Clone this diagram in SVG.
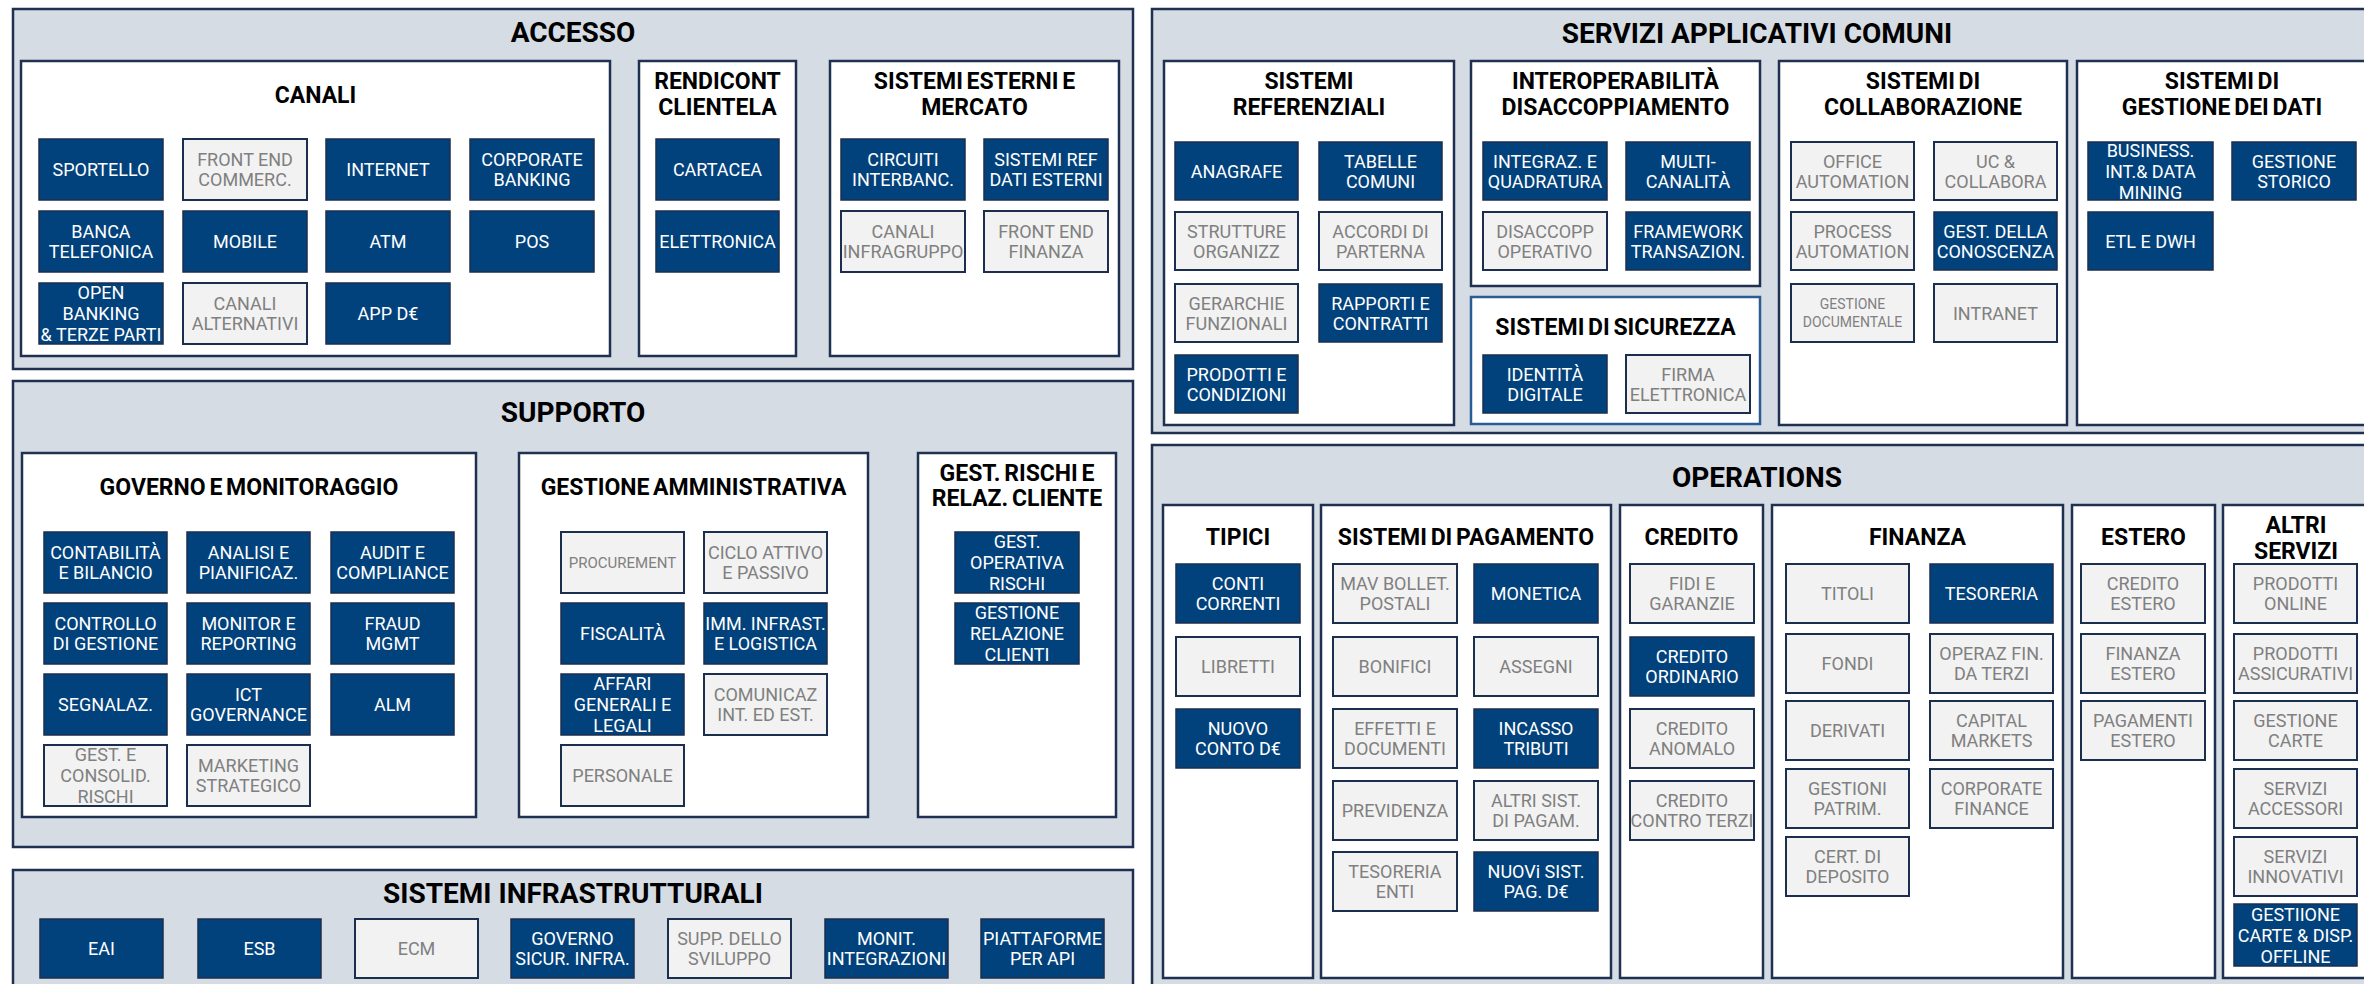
<svg xmlns="http://www.w3.org/2000/svg" width="2364" height="984" viewBox="0 0 2364 984">
<style>
text{font-family:Roboto,"Liberation Sans",sans-serif;text-anchor:middle}
.pn{fill:#d6dce4;stroke:#1f3050;stroke-width:2.5}
.gp{fill:#fff;stroke:#1f3050;stroke-width:2.5}
.sec{fill:#fff;stroke:#2a5b92;stroke-width:2.5}
.t1{font-size:28px;font-weight:700;fill:#000}
.t2{font-size:23px;font-weight:700;fill:#000;word-spacing:-2px}
.D rect{fill:#02427c;stroke:#1c2e4e;stroke-width:1.5}
.L rect{fill:#f2f2f2;stroke:#1c2e4e;stroke-width:2}
.D text,.L text{font-size:18px}
.D text{fill:#fff}
.L text{fill:#808080}
.L text.s15{font-size:15px}
.L text.s14{font-size:14px}
</style>
<rect width="2364" height="984" fill="#fff"/>
<g id="connectors"/>

<!-- ACCESSO -->
<g id="accesso">
<rect class="pn" x="13" y="9" width="1120" height="360"/>
<text class="t1" x="573" y="42">ACCESSO</text>
</g>
<g id="canali">
<rect class="gp" x="21" y="61" width="589" height="295"/>
<text class="t2" x="315.5" y="103">CANALI</text>
</g>
<g id="n-sportello" class="D"><rect x="39" y="139" width="124" height="61"/><text x="101" y="176">SPORTELLO</text></g>
<g id="n-frontend-commerc" class="L"><rect x="183" y="139" width="124" height="61"/><text x="245" y="166">FRONT END<tspan x="245" dy="20">COMMERC.</tspan></text></g>
<g id="n-internet" class="D"><rect x="326" y="139" width="124" height="61"/><text x="388" y="176">INTERNET</text></g>
<g id="n-corporate-banking" class="D"><rect x="470" y="139" width="124" height="61"/><text x="532" y="166">CORPORATE<tspan x="532" dy="20">BANKING</tspan></text></g>
<g id="n-banca-telefonica" class="D"><rect x="39" y="211" width="124" height="61"/><text x="101" y="238">BANCA<tspan x="101" dy="20">TELEFONICA</tspan></text></g>
<g id="n-mobile" class="D"><rect x="183" y="211" width="124" height="61"/><text x="245" y="248">MOBILE</text></g>
<g id="n-atm" class="D"><rect x="326" y="211" width="124" height="61"/><text x="388" y="248">ATM</text></g>
<g id="n-pos" class="D"><rect x="470" y="211" width="124" height="61"/><text x="532" y="248">POS</text></g>
<g id="n-open-banking" class="D"><rect x="39" y="283" width="124" height="61"/><text x="101" y="299">OPEN<tspan x="101" dy="21">BANKING</tspan><tspan x="101" dy="21">&amp; TERZE PARTI</tspan></text></g>
<g id="n-canali-alternativi" class="L"><rect x="183" y="283" width="124" height="61"/><text x="245" y="310">CANALI<tspan x="245" dy="20">ALTERNATIVI</tspan></text></g>
<g id="n-app-de" class="D"><rect x="326" y="283" width="124" height="61"/><text x="388" y="320">APP D€</text></g>

<g id="rendicont">
<rect class="gp" x="639" y="61" width="157" height="295"/>
<text class="t2" x="717.5" y="89">RENDICONT<tspan x="717.5" dy="26">CLIENTELA</tspan></text>
</g>
<g id="n-cartacea" class="D"><rect x="656" y="139" width="123" height="61"/><text x="717.5" y="176">CARTACEA</text></g>
<g id="n-elettronica" class="D"><rect x="656" y="211" width="123" height="61"/><text x="717.5" y="248">ELETTRONICA</text></g>

<g id="sistemi-esterni">
<rect class="gp" x="830" y="61" width="289" height="295"/>
<text class="t2" x="974.5" y="89">SISTEMI ESTERNI E<tspan x="974.5" dy="26">MERCATO</tspan></text>
</g>
<g id="n-circuiti" class="D"><rect x="841" y="139" width="124" height="61"/><text x="903" y="166">CIRCUITI<tspan x="903" dy="20">INTERBANC.</tspan></text></g>
<g id="n-sistemi-ref" class="D"><rect x="984" y="139" width="124" height="61"/><text x="1046" y="166">SISTEMI REF<tspan x="1046" dy="20">DATI ESTERNI</tspan></text></g>
<g id="n-canali-infragruppo" class="L"><rect x="841" y="211" width="124" height="61"/><text x="903" y="238">CANALI<tspan x="903" dy="20">INFRAGRUPPO</tspan></text></g>
<g id="n-frontend-finanza" class="L"><rect x="984" y="211" width="124" height="61"/><text x="1046" y="238">FRONT END<tspan x="1046" dy="20">FINANZA</tspan></text></g>

<!-- SUPPORTO -->
<g id="supporto">
<rect class="pn" x="13" y="381" width="1120" height="466"/>
<text class="t1" x="573" y="422">SUPPORTO</text>
</g>
<g id="governo">
<rect class="gp" x="22" y="453" width="454" height="364"/>
<text class="t2" x="249" y="495">GOVERNO E MONITORAGGIO</text>
</g>
<g id="n-contabilita" class="D"><rect x="44" y="532" width="123" height="61"/><text x="105.5" y="559">CONTABILITÀ<tspan x="105.5" dy="20">E BILANCIO</tspan></text></g>
<g id="n-analisi" class="D"><rect x="187" y="532" width="123" height="61"/><text x="248.5" y="559">ANALISI E<tspan x="248.5" dy="20">PIANIFICAZ.</tspan></text></g>
<g id="n-audit" class="D"><rect x="331" y="532" width="123" height="61"/><text x="392.5" y="559">AUDIT E<tspan x="392.5" dy="20">COMPLIANCE</tspan></text></g>
<g id="n-controllo" class="D"><rect x="44" y="603" width="123" height="61"/><text x="105.5" y="630">CONTROLLO<tspan x="105.5" dy="20">DI GESTIONE</tspan></text></g>
<g id="n-monitor" class="D"><rect x="187" y="603" width="123" height="61"/><text x="248.5" y="630">MONITOR E<tspan x="248.5" dy="20">REPORTING</tspan></text></g>
<g id="n-fraud" class="D"><rect x="331" y="603" width="123" height="61"/><text x="392.5" y="630">FRAUD<tspan x="392.5" dy="20">MGMT</tspan></text></g>
<g id="n-segnalaz" class="D"><rect x="44" y="674" width="123" height="61"/><text x="105.5" y="711">SEGNALAZ.</text></g>
<g id="n-ict" class="D"><rect x="187" y="674" width="123" height="61"/><text x="248.5" y="701">ICT<tspan x="248.5" dy="20">GOVERNANCE</tspan></text></g>
<g id="n-alm" class="D"><rect x="331" y="674" width="123" height="61"/><text x="392.5" y="711">ALM</text></g>
<g id="n-gest-consolid" class="L"><rect x="44" y="745" width="123" height="61"/><text x="105.5" y="761">GEST. E<tspan x="105.5" dy="21">CONSOLID.</tspan><tspan x="105.5" dy="21">RISCHI</tspan></text></g>
<g id="n-marketing" class="L"><rect x="187" y="745" width="123" height="61"/><text x="248.5" y="772">MARKETING<tspan x="248.5" dy="20">STRATEGICO</tspan></text></g>

<g id="gest-amm">
<rect class="gp" x="519" y="453" width="349" height="364"/>
<text class="t2" x="693.5" y="495">GESTIONE AMMINISTRATIVA</text>
</g>
<g id="n-procurement" class="L"><rect x="561" y="532" width="123" height="61"/><text class="s15" x="622.5" y="568">PROCUREMENT</text></g>
<g id="n-ciclo" class="L"><rect x="704" y="532" width="123" height="61"/><text x="765.5" y="559">CICLO ATTIVO<tspan x="765.5" dy="20">E PASSIVO</tspan></text></g>
<g id="n-fiscalita" class="D"><rect x="561" y="603" width="123" height="61"/><text x="622.5" y="640">FISCALITÀ</text></g>
<g id="n-imm" class="D"><rect x="704" y="603" width="123" height="61"/><text x="765.5" y="630">IMM. INFRAST.<tspan x="765.5" dy="20">E LOGISTICA</tspan></text></g>
<g id="n-affari" class="D"><rect x="561" y="674" width="123" height="61"/><text x="622.5" y="690">AFFARI<tspan x="622.5" dy="21">GENERALI E</tspan><tspan x="622.5" dy="21">LEGALI</tspan></text></g>
<g id="n-comunicaz" class="L"><rect x="704" y="674" width="123" height="61"/><text x="765.5" y="701">COMUNICAZ<tspan x="765.5" dy="20">INT. ED EST.</tspan></text></g>
<g id="n-personale" class="L"><rect x="561" y="745" width="123" height="61"/><text x="622.5" y="782">PERSONALE</text></g>

<g id="gest-rischi">
<rect class="gp" x="918" y="453" width="198" height="364"/>
<text class="t2" x="1017" y="481">GEST. RISCHI E<tspan x="1017" dy="25">RELAZ. CLIENTE</tspan></text>
</g>
<g id="n-gest-operativa" class="D"><rect x="955" y="532" width="124" height="61"/><text x="1017" y="548">GEST.<tspan x="1017" dy="21">OPERATIVA</tspan><tspan x="1017" dy="21">RISCHI</tspan></text></g>
<g id="n-gest-relazione" class="D"><rect x="955" y="603" width="124" height="61"/><text x="1017" y="619">GESTIONE<tspan x="1017" dy="21">RELAZIONE</tspan><tspan x="1017" dy="21">CLIENTI</tspan></text></g>

<!-- SISTEMI INFRASTRUTTURALI -->
<g id="infra">
<rect class="pn" x="13" y="870" width="1120" height="124"/>
<text class="t1" x="573" y="903">SISTEMI INFRASTRUTTURALI</text>
</g>
<g id="n-eai" class="D"><rect x="40" y="919" width="123" height="59"/><text x="101.5" y="955">EAI</text></g>
<g id="n-esb" class="D"><rect x="198" y="919" width="123" height="59"/><text x="259.5" y="955">ESB</text></g>
<g id="n-ecm" class="L"><rect x="355" y="919" width="123" height="59"/><text x="416.5" y="955">ECM</text></g>
<g id="n-governo-sicur" class="D"><rect x="511" y="919" width="123" height="59"/><text x="572.5" y="945">GOVERNO<tspan x="572.5" dy="20">SICUR. INFRA.</tspan></text></g>
<g id="n-supp-sviluppo" class="L"><rect x="668" y="919" width="123" height="59"/><text x="729.5" y="945">SUPP. DELLO<tspan x="729.5" dy="20">SVILUPPO</tspan></text></g>
<g id="n-monit" class="D"><rect x="825" y="919" width="123" height="59"/><text x="886.5" y="945">MONIT.<tspan x="886.5" dy="20">INTEGRAZIONI</tspan></text></g>
<g id="n-piattaforme" class="D"><rect x="981" y="919" width="123" height="59"/><text x="1042.5" y="945">PIATTAFORME<tspan x="1042.5" dy="20">PER API</tspan></text></g>

<!-- SERVIZI APPLICATIVI COMUNI -->
<g id="servizi">
<rect class="pn" x="1152" y="9" width="1230" height="424"/>
<text class="t1" x="1757" y="43">SERVIZI APPLICATIVI COMUNI</text>
</g>
<g id="sist-ref">
<rect class="gp" x="1164" y="61" width="290" height="364"/>
<text class="t2" x="1309" y="89">SISTEMI<tspan x="1309" dy="26">REFERENZIALI</tspan></text>
</g>
<g id="n-anagrafe" class="D"><rect x="1175" y="142" width="123" height="58"/><text x="1236.5" y="177.5">ANAGRAFE</text></g>
<g id="n-tabelle" class="D"><rect x="1319" y="142" width="123" height="58"/><text x="1380.5" y="167.5">TABELLE<tspan x="1380.5" dy="20">COMUNI</tspan></text></g>
<g id="n-strutture" class="L"><rect x="1175" y="212" width="123" height="58"/><text x="1236.5" y="237.5">STRUTTURE<tspan x="1236.5" dy="20">ORGANIZZ</tspan></text></g>
<g id="n-accordi" class="L"><rect x="1319" y="212" width="123" height="58"/><text x="1380.5" y="237.5">ACCORDI DI<tspan x="1380.5" dy="20">PARTERNA</tspan></text></g>
<g id="n-gerarchie" class="L"><rect x="1175" y="284" width="123" height="58"/><text x="1236.5" y="309.5">GERARCHIE<tspan x="1236.5" dy="20">FUNZIONALI</tspan></text></g>
<g id="n-rapporti" class="D"><rect x="1319" y="284" width="123" height="58"/><text x="1380.5" y="309.5">RAPPORTI E<tspan x="1380.5" dy="20">CONTRATTI</tspan></text></g>
<g id="n-prodotti-condizioni" class="D"><rect x="1175" y="355" width="123" height="58"/><text x="1236.5" y="380.5">PRODOTTI E<tspan x="1236.5" dy="20">CONDIZIONI</tspan></text></g>

<g id="interop">
<rect class="gp" x="1471" y="61" width="289" height="225"/>
<text class="t2" x="1615.5" y="89">INTEROPERABILITÀ<tspan x="1615.5" dy="26">DISACCOPPIAMENTO</tspan></text>
</g>
<g id="n-integraz" class="D"><rect x="1483" y="142" width="124" height="58"/><text x="1545" y="167.5">INTEGRAZ. E<tspan x="1545" dy="20">QUADRATURA</tspan></text></g>
<g id="n-multicanalita" class="D"><rect x="1626" y="142" width="124" height="58"/><text x="1688" y="167.5">MULTI-<tspan x="1688" dy="20">CANALITÀ</tspan></text></g>
<g id="n-disaccopp" class="L"><rect x="1483" y="212" width="124" height="58"/><text x="1545" y="237.5">DISACCOPP<tspan x="1545" dy="20">OPERATIVO</tspan></text></g>
<g id="n-framework" class="D"><rect x="1626" y="212" width="124" height="58"/><text x="1688" y="237.5">FRAMEWORK<tspan x="1688" dy="20">TRANSAZION.</tspan></text></g>

<g id="sicurezza">
<rect class="sec" x="1471" y="297" width="289" height="127"/>
<text class="t2" x="1615.5" y="335">SISTEMI DI SICUREZZA</text>
</g>
<g id="n-identita" class="D"><rect x="1483" y="355" width="124" height="58"/><text x="1545" y="380.5">IDENTITÀ<tspan x="1545" dy="20">DIGITALE</tspan></text></g>
<g id="n-firma" class="L"><rect x="1626" y="355" width="124" height="58"/><text x="1688" y="380.5">FIRMA<tspan x="1688" dy="20">ELETTRONICA</tspan></text></g>

<g id="collab">
<rect class="gp" x="1779" y="61" width="288" height="364"/>
<text class="t2" x="1923" y="89">SISTEMI DI<tspan x="1923" dy="26">COLLABORAZIONE</tspan></text>
</g>
<g id="n-office" class="L"><rect x="1791" y="142" width="123" height="58"/><text x="1852.5" y="167.5">OFFICE<tspan x="1852.5" dy="20">AUTOMATION</tspan></text></g>
<g id="n-uc" class="L"><rect x="1934" y="142" width="123" height="58"/><text x="1995.5" y="167.5">UC &amp;<tspan x="1995.5" dy="20">COLLABORA</tspan></text></g>
<g id="n-process" class="L"><rect x="1791" y="212" width="123" height="58"/><text x="1852.5" y="237.5">PROCESS<tspan x="1852.5" dy="20">AUTOMATION</tspan></text></g>
<g id="n-gest-conoscenza" class="D"><rect x="1934" y="212" width="123" height="58"/><text x="1995.5" y="237.5">GEST. DELLA<tspan x="1995.5" dy="20">CONOSCENZA</tspan></text></g>
<g id="n-gest-documentale" class="L"><rect x="1791" y="284" width="123" height="58"/><text class="s14" x="1852.5" y="309">GESTIONE<tspan x="1852.5" dy="18">DOCUMENTALE</tspan></text></g>
<g id="n-intranet" class="L"><rect x="1934" y="284" width="123" height="58"/><text x="1995.5" y="319.5">INTRANET</text></g>

<g id="gest-dati">
<rect class="gp" x="2077" y="61" width="290" height="364"/>
<text class="t2" x="2222" y="89">SISTEMI DI<tspan x="2222" dy="26">GESTIONE DEI DATI</tspan></text>
</g>
<g id="n-business" class="D"><rect x="2088" y="142" width="125" height="58"/><text x="2150.5" y="156.5">BUSINESS.<tspan x="2150.5" dy="21">INT.&amp; DATA</tspan><tspan x="2150.5" dy="21">MINING</tspan></text></g>
<g id="n-gest-storico" class="D"><rect x="2232" y="142" width="124" height="58"/><text x="2294" y="167.5">GESTIONE<tspan x="2294" dy="20">STORICO</tspan></text></g>
<g id="n-etl" class="D"><rect x="2088" y="212" width="125" height="58"/><text x="2150.5" y="247.5">ETL E DWH</text></g>

<!-- OPERATIONS -->
<g id="operations">
<rect class="pn" x="1152" y="445" width="1230" height="549"/>
<text class="t1" x="1757" y="487">OPERATIONS</text>
</g>
<g id="tipici">
<rect class="gp" x="1163" y="505" width="150" height="473"/>
<text class="t2" x="1238" y="545">TIPICI</text>
</g>
<g id="n-conti-correnti" class="D"><rect x="1176" y="564" width="124" height="59"/><text x="1238" y="590">CONTI<tspan x="1238" dy="20">CORRENTI</tspan></text></g>
<g id="n-libretti" class="L"><rect x="1176" y="637" width="124" height="59"/><text x="1238" y="673">LIBRETTI</text></g>
<g id="n-nuovo-conto" class="D"><rect x="1176" y="709" width="124" height="59"/><text x="1238" y="735">NUOVO<tspan x="1238" dy="20">CONTO D€</tspan></text></g>

<g id="sist-pag">
<rect class="gp" x="1321" y="505" width="290" height="473"/>
<text class="t2" x="1466" y="545">SISTEMI DI PAGAMENTO</text>
</g>
<g id="n-mav" class="L"><rect x="1333" y="564" width="124" height="59"/><text x="1395" y="590">MAV BOLLET.<tspan x="1395" dy="20">POSTALI</tspan></text></g>
<g id="n-monetica" class="D"><rect x="1474" y="564" width="124" height="59"/><text x="1536" y="600">MONETICA</text></g>
<g id="n-bonifici" class="L"><rect x="1333" y="637" width="124" height="59"/><text x="1395" y="673">BONIFICI</text></g>
<g id="n-assegni" class="L"><rect x="1474" y="637" width="124" height="59"/><text x="1536" y="673">ASSEGNI</text></g>
<g id="n-effetti" class="L"><rect x="1333" y="709" width="124" height="59"/><text x="1395" y="735">EFFETTI E<tspan x="1395" dy="20">DOCUMENTI</tspan></text></g>
<g id="n-incasso" class="D"><rect x="1474" y="709" width="124" height="59"/><text x="1536" y="735">INCASSO<tspan x="1536" dy="20">TRIBUTI</tspan></text></g>
<g id="n-previdenza" class="L"><rect x="1333" y="781" width="124" height="59"/><text x="1395" y="817">PREVIDENZA</text></g>
<g id="n-altri-sist" class="L"><rect x="1474" y="781" width="124" height="59"/><text x="1536" y="807">ALTRI SIST.<tspan x="1536" dy="20">DI PAGAM.</tspan></text></g>
<g id="n-tesoreria-enti" class="L"><rect x="1333" y="852" width="124" height="59"/><text x="1395" y="878">TESORERIA<tspan x="1395" dy="20">ENTI</tspan></text></g>
<g id="n-nuovi-sist" class="D"><rect x="1474" y="852" width="124" height="59"/><text x="1536" y="878">NUOVi SIST.<tspan x="1536" dy="20">PAG. D€</tspan></text></g>

<g id="credito">
<rect class="gp" x="1620" y="505" width="143" height="473"/>
<text class="t2" x="1691.5" y="545">CREDITO</text>
</g>
<g id="n-fidi" class="L"><rect x="1630" y="564" width="124" height="59"/><text x="1692" y="590">FIDI E<tspan x="1692" dy="20">GARANZIE</tspan></text></g>
<g id="n-credito-ordinario" class="D"><rect x="1630" y="637" width="124" height="59"/><text x="1692" y="663">CREDITO<tspan x="1692" dy="20">ORDINARIO</tspan></text></g>
<g id="n-credito-anomalo" class="L"><rect x="1630" y="709" width="124" height="59"/><text x="1692" y="735">CREDITO<tspan x="1692" dy="20">ANOMALO</tspan></text></g>
<g id="n-credito-terzi" class="L"><rect x="1630" y="781" width="124" height="59"/><text x="1692" y="807">CREDITO<tspan x="1692" dy="20">CONTRO TERZI</tspan></text></g>

<g id="finanza">
<rect class="gp" x="1772" y="505" width="291" height="473"/>
<text class="t2" x="1917.5" y="545">FINANZA</text>
</g>
<g id="n-titoli" class="L"><rect x="1786" y="564" width="123" height="59"/><text x="1847.5" y="600">TITOLI</text></g>
<g id="n-tesoreria" class="D"><rect x="1930" y="564" width="123" height="59"/><text x="1991.5" y="600">TESORERIA</text></g>
<g id="n-fondi" class="L"><rect x="1786" y="634" width="123" height="59"/><text x="1847.5" y="670">FONDI</text></g>
<g id="n-operaz" class="L"><rect x="1930" y="634" width="123" height="59"/><text x="1991.5" y="660">OPERAZ FIN.<tspan x="1991.5" dy="20">DA TERZI</tspan></text></g>
<g id="n-derivati" class="L"><rect x="1786" y="701" width="123" height="59"/><text x="1847.5" y="737">DERIVATI</text></g>
<g id="n-capital" class="L"><rect x="1930" y="701" width="123" height="59"/><text x="1991.5" y="727">CAPITAL<tspan x="1991.5" dy="20">MARKETS</tspan></text></g>
<g id="n-gestioni-patrim" class="L"><rect x="1786" y="769" width="123" height="59"/><text x="1847.5" y="795">GESTIONI<tspan x="1847.5" dy="20">PATRIM.</tspan></text></g>
<g id="n-corporate-finance" class="L"><rect x="1930" y="769" width="123" height="59"/><text x="1991.5" y="795">CORPORATE<tspan x="1991.5" dy="20">FINANCE</tspan></text></g>
<g id="n-cert" class="L"><rect x="1786" y="837" width="123" height="59"/><text x="1847.5" y="863">CERT. DI<tspan x="1847.5" dy="20">DEPOSITO</tspan></text></g>

<g id="estero">
<rect class="gp" x="2072" y="505" width="143" height="473"/>
<text class="t2" x="2143.5" y="545">ESTERO</text>
</g>
<g id="n-credito-estero" class="L"><rect x="2081" y="564" width="124" height="59"/><text x="2143" y="590">CREDITO<tspan x="2143" dy="20">ESTERO</tspan></text></g>
<g id="n-finanza-estero" class="L"><rect x="2081" y="634" width="124" height="59"/><text x="2143" y="660">FINANZA<tspan x="2143" dy="20">ESTERO</tspan></text></g>
<g id="n-pagamenti-estero" class="L"><rect x="2081" y="701" width="124" height="59"/><text x="2143" y="727">PAGAMENTI<tspan x="2143" dy="20">ESTERO</tspan></text></g>

<g id="altri-servizi">
<rect class="gp" x="2223" y="505" width="150" height="473"/>
<text class="t2" x="2296" y="533">ALTRI<tspan x="2296" dy="26">SERVIZI</tspan></text>
</g>
<g id="n-prodotti-online" class="L"><rect x="2234" y="564" width="123" height="59"/><text x="2295.5" y="590">PRODOTTI<tspan x="2295.5" dy="20">ONLINE</tspan></text></g>
<g id="n-prodotti-assicurativi" class="L"><rect x="2234" y="634" width="123" height="59"/><text x="2295.5" y="660">PRODOTTI<tspan x="2295.5" dy="20">ASSICURATIVI</tspan></text></g>
<g id="n-gestione-carte" class="L"><rect x="2234" y="701" width="123" height="59"/><text x="2295.5" y="727">GESTIONE<tspan x="2295.5" dy="20">CARTE</tspan></text></g>
<g id="n-servizi-accessori" class="L"><rect x="2234" y="769" width="123" height="59"/><text x="2295.5" y="795">SERVIZI<tspan x="2295.5" dy="20">ACCESSORI</tspan></text></g>
<g id="n-servizi-innovativi" class="L"><rect x="2234" y="837" width="123" height="59"/><text x="2295.5" y="863">SERVIZI<tspan x="2295.5" dy="20">INNOVATIVI</tspan></text></g>
<g id="n-gestiione-carte" class="D"><rect x="2234" y="904" width="123" height="62"/><text x="2295.5" y="920.5">GESTIIONE<tspan x="2295.5" dy="21">CARTE &amp; DISP.</tspan><tspan x="2295.5" dy="21">OFFLINE</tspan></text></g>
</svg>
